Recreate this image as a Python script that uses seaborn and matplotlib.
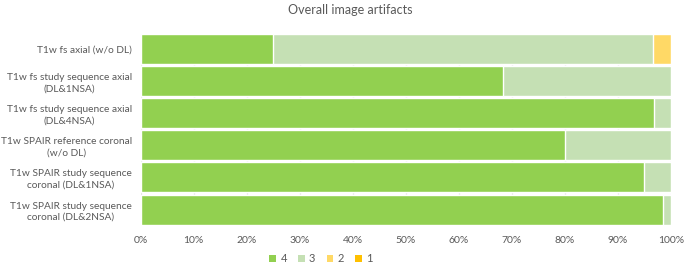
import matplotlib
matplotlib.use("Agg")
import matplotlib.pyplot as plt
import seaborn as sns
import pandas as pd
import numpy as np
from matplotlib.patches import Patch

categories = [
    "T1w fs axial (w/o DL)",
    "T1w fs study sequence axial\n(DL&1NSA)",
    "T1w fs study sequence axial\n(DL&4NSA)",
    "T1w SPAIR reference coronal\n(w/o DL)",
    "T1w SPAIR study sequence\ncoronal (DL&1NSA)",
    "T1w SPAIR study sequence\ncoronal (DL&2NSA)",
]
score_labels = ["4", "3", "2", "1"]
score4 = [25.0, 68.3, 96.7, 80.0, 95.0, 98.4]
score3 = [71.6, 31.7, 3.3, 20.0, 5.0, 1.6]
score2 = [3.4, 0.0, 0.0, 0.0, 0.0, 0.0]
score1 = [0.0, 0.0, 0.0, 0.0, 0.0, 0.0]
colors = ["#92D050", "#C5E0B4", "#FFD966", "#FFC000"]

sns.set_theme(style="white")
plt.rcParams["font.family"] = ["Lato", "DejaVu Sans"]
text_color = "#595959"

df = pd.DataFrame({"category": categories, "4": score4, "3": score3, "2": score2, "1": score1})
cum = df[score_labels].cumsum(axis=1)

fig = plt.figure(figsize=(6.85, 2.64), dpi=100)
ax = fig.add_axes([140.7 / 685, 1 - 224.5 / 264, (671 - 140.7) / 685, (224.5 - 34) / 264])

for xv in np.arange(0, 101, 10):
    ax.axvline(xv, color="#D9D9D9", lw=0.8, zorder=0)

for lab, col in reversed(list(zip(score_labels, colors))):
    d = pd.DataFrame({"category": categories, "value": cum[lab].values})
    sns.barplot(data=d, x="value", y="category", orient="h", color=col,
                width=0.93, saturation=1, ax=ax, zorder=2, legend=False)

if ax.get_legend() is not None:
    ax.get_legend().remove()

ax.set_xlim(0, 100)
ax.set_ylim(5.465, -0.465)
ax.set_xticks(np.arange(0, 101, 10))
ax.set_xticklabels([f"{v}%" for v in range(0, 101, 10)])
ax.set_xlabel("")
ax.set_ylabel("")
for s in ax.spines.values():
    s.set_visible(False)
ax.tick_params(axis="x", length=0, labelsize=7.5, colors=text_color, pad=8)
ax.tick_params(axis="y", length=0, labelsize=7.3, colors=text_color, pad=6.5)
ax.set_yticks(range(len(categories)))
ax.set_yticklabels(categories, ha="right", multialignment="center", linespacing=1.3)

handles = [Patch(facecolor=c, edgecolor="none", label=l) for l, c in zip(score_labels, colors)]
fig.legend(handles=handles, loc="center", bbox_to_anchor=(321 / 685, 1 - 259 / 264),
           ncol=4, frameon=False, fontsize=8, handlelength=0.6, handleheight=0.6,
           handletextpad=0.4, columnspacing=1.0, labelcolor=text_color)

fig.text(350 / 685, 1 - 10 / 264, "Overall image artifacts", ha="center", va="center",
         fontsize=9, color=text_color)

fig.savefig("out.png", dpi=100)
